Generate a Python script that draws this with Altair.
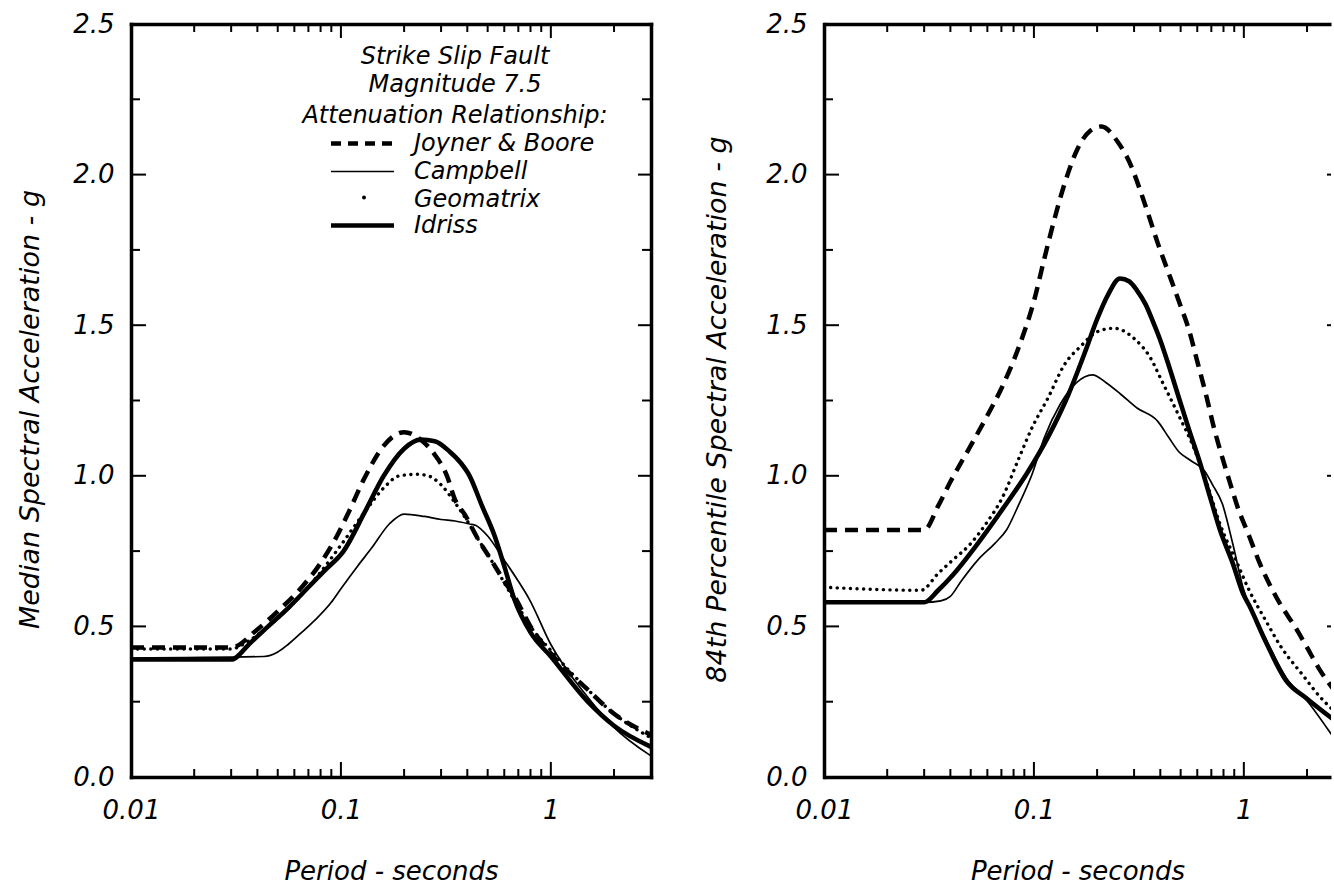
import math

import altair as alt
import pandas as pd

FONT = "DejaVu Sans"
INK = "black"

# ---- axis tick values ------------------------------------------------------
PERIOD_LABELS = [0.01, 0.1, 1]
PERIOD_MAJOR = [0.1, 1]
PERIOD_MINOR = [0.02, 0.03, 0.04, 0.05, 0.06, 0.07, 0.08, 0.09,
                0.2, 0.3, 0.4, 0.5, 0.6, 0.7, 0.8, 0.9, 2]
SA_LABELS = [0.0, 0.5, 1.0, 1.5, 2.0, 2.5]
SA_MAJOR = [0.5, 1.0, 1.5, 2.0]
SA_MINOR = [0.25, 0.75, 1.25, 1.75, 2.25]

LEGEND_HEADER = ["Strike Slip Fault", "Magnitude 7.5", "Attenuation Relationship:"]
SERIES = ["Joyner & Boore", "Campbell", "Geomatrix", "Idriss"]

# ---- median spectra (period in s, spectral acceleration in g) -------------
MED_JB_T = [0.01, 0.03, 0.04, 0.05, 0.066, 0.08, 0.094, 0.109, 0.129, 0.16, 0.2,
            0.24, 0.28, 0.32, 0.35, 0.39, 0.45, 0.52, 0.6, 0.67, 0.8, 1.0, 1.5, 2.0, 3.0]
MED_JB_SA = [0.43, 0.43, 0.49, 0.55, 0.635, 0.71, 0.79, 0.88, 0.99, 1.10, 1.145,
             1.12, 1.07, 1.0, 0.92, 0.87, 0.79, 0.72, 0.65, 0.60, 0.50, 0.41, 0.29, 0.21, 0.14]

MED_CB_T = [0.01, 0.043, 0.05, 0.056, 0.065, 0.075, 0.09, 0.1, 0.12, 0.14, 0.17, 0.2,
            0.25, 0.3, 0.35, 0.41, 0.44, 0.5, 0.6, 0.7, 0.79, 1.0, 1.5, 2.0, 3.0]
MED_CB_SA = [0.395, 0.40, 0.415, 0.44, 0.48, 0.52, 0.58, 0.625, 0.70, 0.76, 0.84, 0.873,
             0.865, 0.855, 0.85, 0.84, 0.835, 0.80, 0.72, 0.65, 0.59, 0.44, 0.265, 0.165, 0.07]

MED_GM_T = [0.01, 0.03, 0.036, 0.045, 0.06, 0.08, 0.1, 0.13, 0.16, 0.19, 0.23, 0.26,
            0.3, 0.35, 0.4, 0.45, 0.52, 0.6, 0.7, 0.8, 1.0, 1.5, 2.0, 3.0]
MED_GM_SA = [0.425, 0.425, 0.45, 0.50, 0.58, 0.68, 0.77, 0.88, 0.96, 1.0, 1.005, 1.0,
             0.97, 0.91, 0.85, 0.79, 0.72, 0.645, 0.565, 0.50, 0.42, 0.29, 0.21, 0.13]

MED_ID_T = [0.01, 0.03, 0.037, 0.045, 0.057, 0.07, 0.085, 0.103, 0.13, 0.16, 0.2, 0.24,
            0.28, 0.33, 0.37, 0.41, 0.47, 0.54, 0.6, 0.67, 0.8, 1.0, 1.5, 2.0, 3.0]
MED_ID_SA = [0.39, 0.39, 0.445, 0.50, 0.566, 0.63, 0.69, 0.75, 0.88, 1.0, 1.09, 1.12,
             1.115, 1.08, 1.045, 1.0, 0.90, 0.80, 0.70, 0.59, 0.48, 0.40, 0.25, 0.17, 0.10]

# ---- 84th percentile spectra ----------------------------------------------
P84_JB_T = [0.01, 0.03, 0.035, 0.04, 0.05, 0.06, 0.07, 0.085, 0.1, 0.112, 0.125, 0.14,
            0.16, 0.185, 0.21, 0.25, 0.29, 0.32, 0.35, 0.39, 0.44, 0.49, 0.55, 0.6,
            0.66, 0.72, 0.79, 0.865, 0.93, 1.06, 1.19, 1.42, 1.82, 2.0, 2.28, 2.68]
P84_JB_SA = [0.82, 0.82, 0.90, 0.98, 1.10, 1.20, 1.29, 1.43, 1.58, 1.72, 1.85, 1.97,
             2.08, 2.145, 2.16, 2.11, 2.03, 1.95, 1.87, 1.77, 1.67, 1.58, 1.48, 1.38,
             1.27, 1.16, 1.06, 0.97, 0.90, 0.80, 0.71, 0.60, 0.48, 0.43, 0.36, 0.29]

P84_CB_T = [0.01, 0.03, 0.036, 0.04, 0.045, 0.054, 0.065, 0.074, 0.085, 0.098, 0.112,
            0.133, 0.16, 0.19, 0.22, 0.26, 0.31, 0.39, 0.44, 0.49, 0.56, 0.65, 0.71,
            0.79, 0.885, 0.99, 1.27, 1.59, 1.99, 2.68]
P84_CB_SA = [0.58, 0.58, 0.585, 0.60, 0.65, 0.72, 0.775, 0.82, 0.907, 1.005, 1.126,
             1.236, 1.31, 1.335, 1.31, 1.27, 1.225, 1.18, 1.126, 1.08, 1.05, 1.016, 0.97,
             0.907, 0.775, 0.63, 0.46, 0.33, 0.255, 0.13]

P84_GM_T = [0.01, 0.029, 0.035, 0.041, 0.05, 0.059, 0.071, 0.085, 0.098, 0.117, 0.14,
            0.167, 0.2, 0.24, 0.3, 0.36, 0.41, 0.49, 0.58, 0.67, 0.77, 0.93, 1.06, 1.27,
            1.51, 1.9, 2.28, 2.68]
P84_GM_SA = [0.63, 0.62, 0.676, 0.72, 0.775, 0.84, 0.93, 1.06, 1.16, 1.26, 1.37,
             1.43, 1.478, 1.49, 1.456, 1.39, 1.31, 1.20, 1.09, 0.97, 0.84, 0.71, 0.62, 0.52,
             0.43, 0.34, 0.27, 0.22]

P84_ID_T = [0.01, 0.03, 0.035, 0.041, 0.054, 0.071, 0.093, 0.117, 0.146, 0.175, 0.2,
            0.225, 0.257, 0.285, 0.31, 0.34, 0.37, 0.4, 0.43, 0.49, 0.55, 0.62, 0.69,
            0.77, 0.885, 0.99, 1.06, 1.27, 1.59, 2.0, 2.68]
P84_ID_SA = [0.58, 0.58, 0.62, 0.67, 0.775, 0.89, 1.01, 1.13, 1.27, 1.41, 1.52,
             1.60, 1.655, 1.645, 1.615, 1.57, 1.51, 1.45, 1.385, 1.26, 1.15, 1.04, 0.93,
             0.82, 0.71, 0.61, 0.57, 0.45, 0.32, 0.26, 0.19]

LINE_STYLE = {
    "Joyner & Boore": {"strokeWidth": 4.5, "strokeDash": [13, 8]},
    "Campbell": {"strokeWidth": 1.7},
    "Geomatrix": {"strokeWidth": 3.4, "strokeDash": [0.1, 6.5], "strokeCap": "round"},
    "Idriss": {"strokeWidth": 4.6},
}

# ---- panel geometry ---------------------------------------------------------
W_LEFT, W_RIGHT, H = 520, 507, 753
X_MIN, X_MAX = 0.01, 3.0
PX_PER_DECADE = W_LEFT / math.log10(X_MAX / X_MIN)
X_MAX_RIGHT = X_MIN * 10 ** (W_RIGHT / PX_PER_DECADE)   # right panel runs off the page
FRAME = 3.5


def tick_rules(values, xs, ys, side, length, width, axis=None):
    df = pd.DataFrame({"v": values})
    rule = alt.Chart(df).mark_rule(color=INK, strokeWidth=2)
    if side in ("top", "bottom"):
        x = alt.X("v:Q", scale=xs, axis=axis)
        if side == "top":
            return rule.encode(x=x, y=alt.value(0), y2=alt.value(length))
        return rule.encode(x=x, y=alt.value(H), y2=alt.value(H - length))
    y = alt.Y("v:Q", scale=ys, axis=axis)
    if side == "left":
        return rule.encode(y=y, x=alt.value(0), x2=alt.value(length))
    return rule.encode(y=y, x=alt.value(width - length), x2=alt.value(width))


def legend_layers():
    layers = []
    header_y = [32.5, 60.5, 91.5]
    for label, y in zip(LEGEND_HEADER, header_y):
        layers.append(
            alt.Chart(pd.DataFrame({"label": [label]}))
            .mark_text(font=FONT, fontSize=24, fontStyle="italic", color=INK,
                       align="center", baseline="middle")
            .encode(text="label:N", x=alt.value(324), y=alt.value(y))
        )
    series_y = [119.5, 147.5, 175.5, 201.5]
    for name, y in zip(SERIES, series_y):
        layers.append(
            alt.Chart(pd.DataFrame({"label": [name]}))
            .mark_text(font=FONT, fontSize=24, fontStyle="italic", color=INK,
                       align="left", baseline="middle")
            .encode(text="label:N", x=alt.value(283), y=alt.value(y))
        )
        if name == "Geomatrix":
            layers.append(
                alt.Chart(pd.DataFrame({"label": [name]}))
                .mark_circle(color=INK, opacity=1, size=16)
                .encode(x=alt.value(233), y=alt.value(y - 2))
            )
        else:
            style = dict(LINE_STYLE[name])
            if name == "Joyner & Boore":
                style["strokeDash"] = [10, 7]
            layers.append(
                alt.Chart(pd.DataFrame({"label": [name]}))
                .mark_rule(color=INK, **style)
                .encode(x=alt.value(200), x2=alt.value(263), y=alt.value(y))
            )
    return layers


def panel(series, width, x_max, y_title, y_title_x, right_frame, with_legend):
    xs = alt.Scale(type="log", domain=[X_MIN, x_max], nice=False)
    ys = alt.Scale(domain=[0, 2.5], nice=False, zero=False)
    cap = "square" if right_frame else "butt"
    text = dict(labelFont=FONT, labelFontSize=26, labelFontStyle="italic", labelColor=INK,
                titleFont=FONT, titleFontStyle="italic", titleFontWeight="normal",
                titleColor=INK)
    x_axis = alt.Axis(orient="bottom", values=PERIOD_LABELS, format="~g", grid=False,
                      ticks=False, tickSize=0, labelPadding=20, labelFlush=False,
                      domainColor=INK, domainWidth=FRAME, domainCap=cap,
                      title="Period - seconds", titleFontSize=26,
                      titleBaseline="middle", titleY=94, **text)
    y_axis = alt.Axis(orient="left", values=SA_LABELS, format=".1f", grid=False,
                      ticks=False, tickSize=0, labelPadding=17, labelFlush=False,
                      domainColor=INK, domainWidth=FRAME, domainCap="square",
                      title=y_title, titleFontSize=27, titleAngle=270,
                      titleAlign="center", titleBaseline="middle",
                      titleX=y_title_x, titleY=385, **text)

    layers = []
    for i, (name, t, sa) in enumerate(series):
        df = pd.DataFrame({"period": t, "sa": sa})
        layers.append(
            alt.Chart(df)
            .mark_line(color=INK, clip=True, interpolate="monotone", **LINE_STYLE[name])
            .encode(
                x=alt.X("period:Q", scale=xs, axis=x_axis if i == 0 else None),
                y=alt.Y("sa:Q", scale=ys, axis=y_axis if i == 0 else None),
            )
        )

    major_x = [v for v in PERIOD_MAJOR if v <= x_max]
    minor_x = [v for v in PERIOD_MINOR if v <= x_max]
    top_axis = alt.Axis(orient="top", labels=False, ticks=False, grid=False, title=None,
                        domainColor=INK, domainWidth=FRAME, domainCap=cap)
    layers += [
        tick_rules(major_x, xs, ys, "top", 14, width, axis=top_axis),
        tick_rules(minor_x, xs, ys, "top", 8, width),
        tick_rules(major_x, xs, ys, "bottom", 15, width),
        tick_rules(minor_x, xs, ys, "bottom", 8, width),
        tick_rules(SA_MAJOR, xs, ys, "left", 15, width),
        tick_rules(SA_MINOR, xs, ys, "left", 9, width),
    ]
    if right_frame:
        right_axis = alt.Axis(orient="right", labels=False, ticks=False, grid=False,
                              title=None, domainColor=INK, domainWidth=FRAME,
                              domainCap="square")
        layers += [
            tick_rules(SA_MAJOR, xs, ys, "right", 13, width, axis=right_axis),
            tick_rules(SA_MINOR, xs, ys, "right", 9, width),
        ]
    else:
        layers.append(tick_rules(SA_MAJOR, xs, ys, "right", 4, width))

    if with_legend:
        layers += legend_layers()

    return (
        alt.layer(*layers)
        .resolve_axis(x="independent", y="independent")
        .properties(width=width, height=H)
    )


median = panel(
    [("Campbell", MED_CB_T, MED_CB_SA), ("Geomatrix", MED_GM_T, MED_GM_SA),
     ("Joyner & Boore", MED_JB_T, MED_JB_SA), ("Idriss", MED_ID_T, MED_ID_SA)],
    W_LEFT, X_MAX, "Median Spectral Acceleration - g", -101, True, True,
)
p84 = panel(
    [("Campbell", P84_CB_T, P84_CB_SA), ("Geomatrix", P84_GM_T, P84_GM_SA),
     ("Joyner & Boore", P84_JB_T, P84_JB_SA), ("Idriss", P84_ID_T, P84_ID_SA)],
    W_RIGHT, X_MAX_RIGHT, "84th Percentile Spectral Acceleration - g", -107, False, False,
)

chart = (
    alt.hconcat(median, p84, spacing=173, bounds="flush")
    .properties(padding={"left": 16, "top": 11, "right": 0, "bottom": 0},
                background="white")
    .configure_view(stroke=None)
)

chart.save("out.html", embed_options={"renderer": "svg", "actions": False})
